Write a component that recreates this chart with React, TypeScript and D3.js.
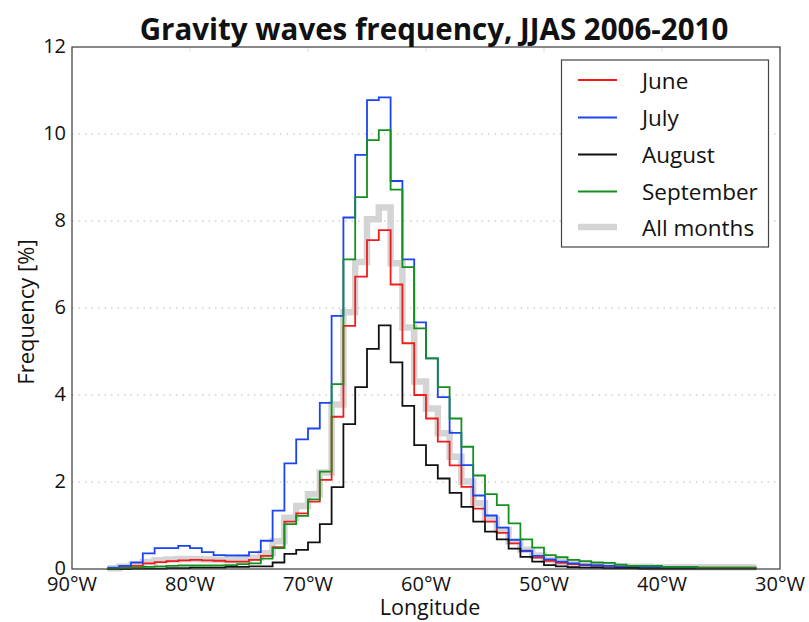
import React from "react";
import * as d3 from "d3";

// Bin left edges (degrees longitude, negative = West); each bin is 1° wide
const binStart: number[] = d3.range(-87, -32, 1);
const binEndLon = -32;

const june: number[] = [
  0.02, 0.04, 0.07, 0.13, 0.16, 0.18, 0.2, 0.21, 0.2, 0.19, 0.17, 0.17, 0.21, 0.3, 0.5,
  1.09, 1.28, 1.55, 2.05, 3.5, 5.59, 6.72, 7.56, 7.79, 6.54, 5.19, 4.0, 3.46, 2.93, 2.38,
  1.89, 1.39, 1.09, 0.83, 0.59, 0.41, 0.26, 0.19, 0.14, 0.11, 0.09, 0.08, 0.07, 0.05, 0.05,
  0.04, 0.04, 0.03, 0.03, 0.03, 0.03, 0.03, 0.03, 0.03, 0.03,
];
const july: number[] = [
  0.03, 0.07, 0.15, 0.36, 0.48, 0.48, 0.53, 0.48, 0.39, 0.32, 0.31, 0.31, 0.39, 0.65, 1.34,
  2.43, 2.98, 3.23, 3.82, 5.82, 8.08, 9.52, 10.78, 10.84, 8.92, 7.12, 5.67, 4.84, 3.95, 3.13,
  2.39, 1.69, 1.23, 0.95, 0.67, 0.42, 0.3, 0.22, 0.17, 0.13, 0.1, 0.08, 0.07, 0.06, 0.05,
  0.04, 0.04, 0.03, 0.03, 0.03, 0.02, 0.02, 0.02, 0.02, 0.02,
];
const august: number[] = [
  0.0, 0.0, 0.01, 0.01, 0.01, 0.02, 0.02, 0.03, 0.03, 0.03, 0.05, 0.05, 0.06, 0.06, 0.15,
  0.35, 0.44, 0.61, 1.03, 1.88, 3.33, 4.18, 5.06, 5.6, 4.75, 3.75, 2.85, 2.39, 2.08, 1.75,
  1.43, 1.09, 0.86, 0.68, 0.47, 0.28, 0.17, 0.09, 0.06, 0.04, 0.03, 0.03, 0.02, 0.02, 0.02,
  0.01, 0.01, 0.01, 0.01, 0.01, 0.01, 0.01, 0.01, 0.01, 0.01,
];
const september: number[] = [
  0.01, 0.02, 0.03, 0.05, 0.06, 0.07, 0.08, 0.08, 0.08, 0.08, 0.09, 0.11, 0.13, 0.24, 0.48,
  1.03, 1.22, 1.6, 2.24, 4.25, 7.12, 8.55, 9.86, 10.09, 8.72, 6.94, 5.53, 4.84, 4.18, 3.46,
  2.81, 2.15, 1.72, 1.47, 1.05, 0.68, 0.49, 0.32, 0.27, 0.21, 0.18, 0.15, 0.14, 0.1, 0.07,
  0.07, 0.07, 0.05, 0.05, 0.05, 0.03, 0.03, 0.03, 0.03, 0.03,
];
const allMonths: number[] = [
  0.02, 0.05, 0.09, 0.16, 0.2, 0.22, 0.23, 0.23, 0.22, 0.21, 0.2, 0.21, 0.26, 0.36, 0.64,
  1.18, 1.45, 1.72, 2.22, 3.78, 5.9, 7.06, 8.04, 8.31, 7.03, 5.55, 4.31, 3.69, 3.12, 2.58,
  2.01, 1.51, 1.15, 0.9, 0.64, 0.44, 0.31, 0.21, 0.16, 0.12, 0.1, 0.08, 0.07, 0.06, 0.05,
  0.05, 0.04, 0.04, 0.04, 0.04, 0.04, 0.04, 0.04, 0.04, 0.04,
];

const xTicks: number[] = [-90, -80, -70, -60, -50, -40, -30];
const xTickLabels: string[] = ["90°W", "80°W", "70°W", "60°W", "50°W", "40°W", "30°W"];
const yTicks: number[] = [0, 2, 4, 6, 8, 10, 12];
const yTickLabels: string[] = ["0", "2", "4", "6", "8", "10", "12"];

const title = "Gravity waves frequency, JJAS 2006-2010";
const xLabel = "Longitude";
const yLabel = "Frequency [%]";

const seriesNames: string[] = ["June", "July", "August", "September", "All months"];

const W = 809;
const H = 622;
const left = 72;
const right = 780;
const top = 47;
const bottom = 569;
const FONT = "'Open Sans', 'DejaVu Sans', sans-serif";

export default function App() {
  const x = d3.scaleLinear().domain([-90, -30]).range([left, right]);
  const y = d3.scaleLinear().domain([0, 12]).range([bottom, top]);

  const line = d3
    .line<[number, number]>()
    .x((d) => x(d[0]))
    .y((d) => y(d[1]))
    .curve(d3.curveStepAfter);

  const toPts = (vals: number[]): [number, number][] => {
    const pts: [number, number][] = binStart.map((lon, i) => [lon, vals[i]]);
    pts.push([binEndLon, vals[vals.length - 1]]);
    return pts;
  };

  const styles = [
    { data: allMonths, color: "#d4d4d4", width: 6.5 },
    { data: june, color: "#f01c1c", width: 1.8 },
    { data: july, color: "#1a45f0", width: 1.8 },
    { data: august, color: "#111111", width: 1.8 },
    { data: september, color: "#14901e", width: 1.8 },
  ];
  const legendStyles = [
    { name: seriesNames[0], color: "#f01c1c", width: 1.8 },
    { name: seriesNames[1], color: "#1a45f0", width: 1.8 },
    { name: seriesNames[2], color: "#111111", width: 1.8 },
    { name: seriesNames[3], color: "#14901e", width: 1.8 },
    { name: seriesNames[4], color: "#d4d4d4", width: 6.5 },
  ];

  const legX = 561.5;
  const legY = 60;
  const legW = 207;
  const legH = 187;
  const rowY = [80, 117.5, 154.5, 191.5, 227];

  return (
    <svg
      width={W}
      height={H}
      style={{ position: "absolute", left: 0, top: 0, background: "#fff" }}
      fontFamily={FONT}
    >
      <rect x={0} y={0} width={W} height={H} fill="#fff" />
      {/* grid */}
      {yTicks
        .filter((t) => t > 0 && t < 12)
        .map((t) => (
          <line
            key={"g" + t}
            x1={left}
            x2={right}
            y1={y(t)}
            y2={y(t)}
            stroke="#b8b8b8"
            strokeWidth={1}
            strokeDasharray="1.5,5"
          />
        ))}
      {/* top ticks faint */}
      {xTicks.map((t) => (
        <line key={"tt" + t} x1={x(t)} x2={x(t)} y1={top} y2={top + 5} stroke="#dddddd" />
      ))}
      {/* series */}
      {styles.map((s, i) => (
        <path
          key={"s" + i}
          d={line(toPts(s.data)) || ""}
          fill="none"
          stroke={s.color}
          strokeWidth={s.width}
          strokeLinejoin="miter"
        />
      ))}
      {/* frame */}
      <rect
        x={left}
        y={top}
        width={right - left}
        height={bottom - top}
        fill="none"
        stroke="#3a3a3a"
        strokeWidth={1.2}
      />
      {/* y tick labels */}
      {yTicks.map((t, i) => (
        <text
          key={"yl" + t}
          x={left - 6}
          y={y(t) - 2}
          textAnchor="end"
          dominantBaseline="central"
          fontSize={20}
          fill="#111"
        >
          {yTickLabels[i]}
        </text>
      ))}
      {/* x tick labels */}
      {xTicks.map((t, i) => (
        <text
          key={"xl" + t}
          x={x(t)}
          y={591}
          textAnchor="middle"
          fontSize={20}
          fill="#111"
        >
          {xTickLabels[i]}
        </text>
      ))}
      <text x={(left + right) / 2 + 4} y={615} textAnchor="middle" fontSize={21.5} fill="#111">
        {xLabel}
      </text>
      <text
        transform={`translate(34, ${(top + bottom) / 2 + 4}) rotate(-90)`}
        textAnchor="middle"
        fontSize={22}
        fill="#111"
      >
        {yLabel}
      </text>
      <text
        x={434}
        y={40}
        textAnchor="middle"
        fontSize={29.5}
        fontWeight="bold"
        fill="#111"
      >
        {title}
      </text>
      {/* legend */}
      <rect x={legX} y={legY} width={legW} height={legH} fill="#fff" stroke="#444" strokeWidth={1.2} />
      {legendStyles.map((s, i) => (
        <g key={"lg" + i}>
          <line
            x1={578}
            x2={617}
            y1={rowY[i]}
            y2={rowY[i]}
            stroke={s.color}
            strokeWidth={s.width}
          />
          <text x={642} y={rowY[i]} dominantBaseline="central" fontSize={22.5} fill="#111">
            {s.name}
          </text>
        </g>
      ))}
    </svg>
  );
}
